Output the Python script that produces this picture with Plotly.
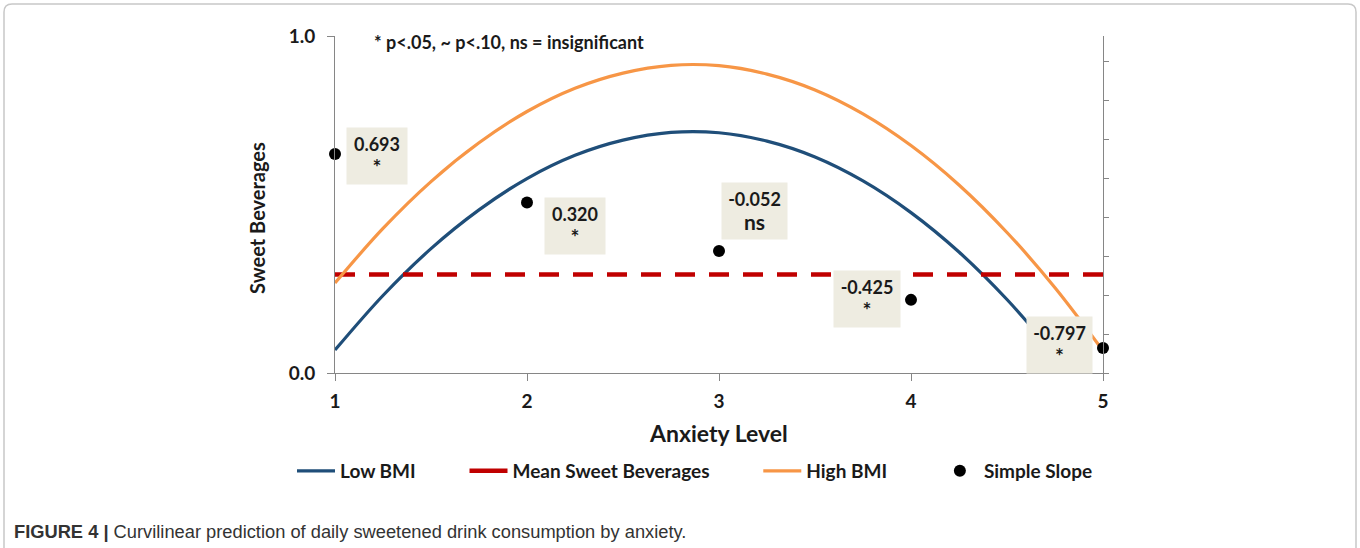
import plotly.graph_objects as go

# ---------------- data ----------------
anxiety = [1, 1.25, 1.5, 1.75, 2, 2.25, 2.5, 2.75, 3, 3.25, 3.5, 3.75, 4, 4.25, 4.5, 4.75, 5]
low_bmi = [0.068, 0.230, 0.369, 0.484, 0.577, 0.646, 0.691, 0.714, 0.713, 0.688,
           0.641, 0.570, 0.476, 0.359, 0.218, 0.054]
high_bmi = [0.267, 0.429, 0.568, 0.683, 0.776, 0.845, 0.890, 0.913, 0.912, 0.887,
            0.840, 0.769, 0.675, 0.558, 0.417, 0.253, 0.066]
mean_x = [1, 5]
mean_sweet = [0.292, 0.292]
slope_x = [1, 2, 3, 4, 5]
slope_y = [0.650, 0.506, 0.362, 0.217, 0.074]
slope_values = ["0.693", "0.320", "-0.052", "-0.425", "-0.797"]
slope_sig = ["*", "*", "ns", "*", "*"]
series_names = ["Low BMI", "Mean Sweet Beverages", "High BMI", "Simple Slope"]
x_ticks = [1, 2, 3, 4, 5]
y_ticks = [0.0, 1.0]
y_tick_labels = ["0.0", "1.0"]

# ---------------- layout geometry (pixels) ----------------
W, H = 1360, 548
L, R, T, B = 335, 1103, 36, 373
PW, PH = R - L, B - T


def px(xp):
    return (xp - L) / PW


def py(yp):
    return (B - yp) / PH


FONT = "Lato, 'Open Sans', sans-serif"
AXC = "#868686"
TXT = "#1a1a1a"
PAD = "\u00a0" * 9

fig = go.Figure()
fig.add_trace(go.Scatter(x=anxiety[:len(low_bmi)], y=low_bmi, mode="lines",
                         name=f"<b>{series_names[0]}</b>{PAD}",
                         line=dict(color="#1F4E79", width=3.2, shape="spline")))
fig.add_trace(go.Scatter(x=[None], y=[None], mode="lines", name=f"<b>{series_names[1]}</b>{PAD}",
                         line=dict(color="#C00000", width=4.5)))
fig.add_trace(go.Scatter(x=mean_x, y=mean_sweet, mode="lines", showlegend=False,
                         line=dict(color="#C00000", width=4.5, dash="20px,14px")))
fig.add_trace(go.Scatter(x=anxiety, y=high_bmi, mode="lines", name=f"<b>{series_names[2]}</b>{PAD}",
                         line=dict(color="#F79646", width=3.2, shape="spline"), cliponaxis=False))
fig.add_trace(go.Scatter(x=slope_x, y=slope_y, mode="markers", name=f"<b>{series_names[3]}</b>",
                         marker=dict(color="black", size=12), cliponaxis=False))
# secondary right axis (unlabelled ticks)
fig.add_trace(go.Scatter(x=[None], y=[None], yaxis="y2", showlegend=False))

# label boxes next to simple-slope points: (dx, dy, width) in pixels
box_offsets = [(42, -2, 60), (48, -24, 60), (35, 40, 65), (-44, 1, 66), (-44, 3, 65)]
for xv, yv, val, sig, (dx, dy, bw) in zip(slope_x, slope_y, slope_values, slope_sig, box_offsets):
    fig.add_annotation(x=xv, y=yv, xref="x", yref="y",
                       text=f"<b>{val}</b><br><b><span style='font-size:21px'>{sig}</span></b>",
                       showarrow=False, xshift=dx, yshift=dy, width=bw, height=56,
                       bgcolor="#EEECE1", borderpad=0, align="center",
                       font=dict(family=FONT, size=18, color=TXT))

# significance note
fig.add_annotation(x=px(372), y=py(42), xref="paper", yref="paper", xanchor="left", yanchor="middle",
                   text="<b>* p<.05, ~ p<.10, ns = insignificant</b>", showarrow=False,
                   font=dict(family=FONT, size=18, color=TXT))
# axis titles
fig.add_annotation(x=px(257), y=py(218), xref="paper", yref="paper", xanchor="center", yanchor="middle",
                   text="<b>Sweet Beverages</b>", textangle=-90, showarrow=False,
                   font=dict(family=FONT, size=20, color=TXT))
fig.add_annotation(x=px(718), y=py(433), xref="paper", yref="paper", xanchor="center", yanchor="middle",
                   text="<b>Anxiety Level</b>", showarrow=False,
                   font=dict(family=FONT, size=23, color=TXT))
# caption
fig.add_annotation(x=px(12), y=py(531), xref="paper", yref="paper", xanchor="left", yanchor="middle",
                   text="<b>FIGURE 4 |</b> Curvilinear prediction of daily sweetened drink consumption by anxiety.",
                   showarrow=False,
                   font=dict(family="'Liberation Sans', Arial, sans-serif", size=18.3, color="#333333"))

# outer rounded frame
r = 8
x0, x1, y0, y1 = 4, 1356, 4, 620
path = (f"M {px(x0 + r)},{py(y0)} L {px(x1 - r)},{py(y0)} Q {px(x1)},{py(y0)} {px(x1)},{py(y0 + r)} "
        f"L {px(x1)},{py(y1)} L {px(x0)},{py(y1)} L {px(x0)},{py(y0 + r)} Q {px(x0)},{py(y0)} {px(x0 + r)},{py(y0)} Z")
fig.add_shape(type="path", path=path, xref="paper", yref="paper",
              line=dict(color="#C8C8C8", width=1.5), layer="below")

fig.update_layout(
    width=W, height=H,
    margin=dict(l=L, r=W - R, t=T, b=H - B, pad=0),
    paper_bgcolor="white", plot_bgcolor="white",
    showlegend=True,
    legend=dict(orientation="h", x=px(292), y=py(471), xanchor="left", yanchor="middle",
                font=dict(family=FONT, size=19, color=TXT), bgcolor="rgba(0,0,0,0)",
                itemwidth=38, traceorder="normal"),
    xaxis=dict(range=[1, 5], tickvals=x_ticks, ticktext=[f"<b>{v}</b>" for v in x_ticks],
               showgrid=False, zeroline=False, showline=True, linecolor=AXC, linewidth=1,
               ticks="outside", ticklen=7, tickcolor=AXC, tickwidth=1, ticklabelstandoff=4,
               tickfont=dict(family=FONT, size=19, color=TXT)),
    yaxis=dict(range=[0, 1], tickvals=y_ticks, ticktext=[f"<b>{t}</b>" for t in y_tick_labels],
               showgrid=False, zeroline=False, showline=True, linecolor=AXC, linewidth=1,
               ticks="outside", ticklen=7, tickcolor=AXC, tickwidth=1, ticklabelstandoff=8,
               tickfont=dict(family=FONT, size=19, color=TXT)),
    yaxis2=dict(overlaying="y", side="right", range=[0, 337 / 39], dtick=1, tick0=0,
                showgrid=False, zeroline=False, showline=True, linecolor=AXC, linewidth=1,
                ticks="outside", ticklen=5, tickcolor=AXC, showticklabels=False),
)

fig.write_html("out.html", config={"displayModeBar": False},
               post_script="document.body.style.margin='0';")
